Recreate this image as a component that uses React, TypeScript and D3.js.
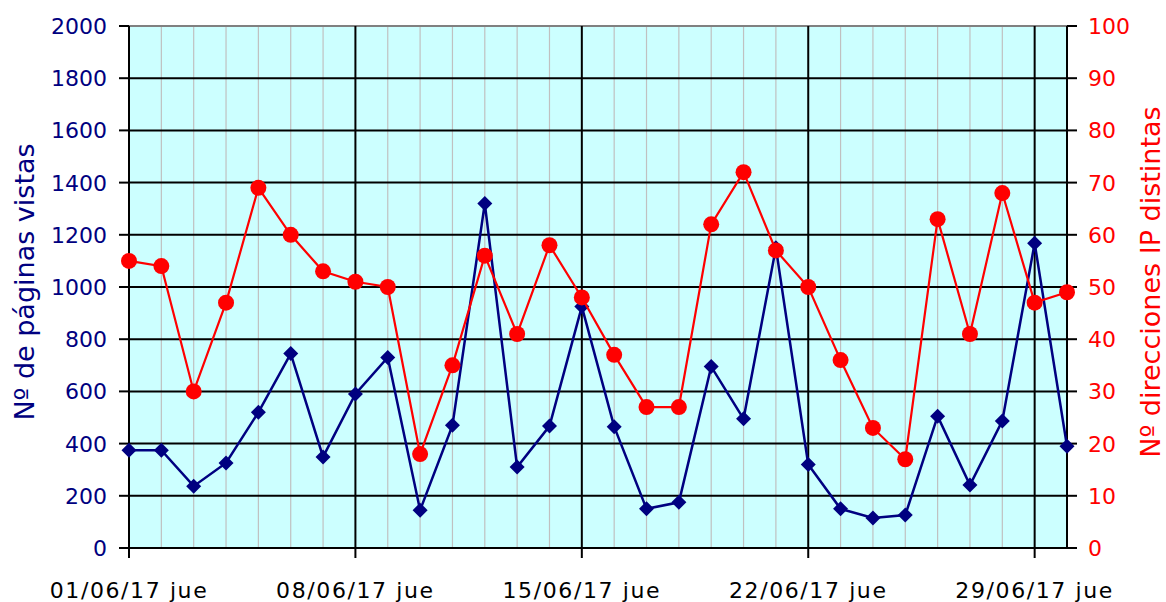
import React from "react";
import * as d3 from "d3";

const days: number[] = Array.from({ length: 30 }, (_, i) => i + 1);
const pageViews: number[] = [
  375, 375, 237, 326, 520, 745, 349, 590, 730, 145,
  470, 1320, 310, 467, 925, 465, 150, 175, 695, 495,
  1150, 320, 150, 115, 126, 505, 241, 487, 1168, 390,
];
const distinctIPs: number[] = [
  55, 54, 30, 47, 69, 60, 53, 51, 50, 18,
  35, 56, 41, 58, 48, 37, 27, 27, 62, 72,
  57, 50, 36, 23, 17, 63, 41, 68, 47, 49,
];
const leftTicks: number[] = [0, 200, 400, 600, 800, 1000, 1200, 1400, 1600, 1800, 2000];
const rightTicks: number[] = [0, 10, 20, 30, 40, 50, 60, 70, 80, 90, 100];
const majorDays: number[] = [1, 8, 15, 22, 29];
const majorLabels: string[] = ["01/06/17 jue", "08/06/17 jue", "15/06/17 jue", "22/06/17 jue", "29/06/17 jue"];
const leftTitle = "Nº de páginas vistas";
const rightTitle = "Nº direcciones IP distintas";

const W = 1166;
const H = 602;
const L = 129;
const R = 1067;
const T = 26;
const B = 548;
const FONT = "'DejaVu Sans', sans-serif";

export default function App() {
  const x = d3.scaleLinear().domain([1, 30]).range([L, R]);
  const yL = d3.scaleLinear().domain([0, 2000]).range([B, T]);
  const yR = d3.scaleLinear().domain([0, 100]).range([B, T]);

  const blueLine = d3
    .line<number>()
    .x((_, i) => x(days[i]))
    .y((v) => yL(v))(pageViews) as string;
  const redLine = d3
    .line<number>()
    .x((_, i) => x(days[i]))
    .y((v) => yR(v))(distinctIPs) as string;

  const midY = 282;

  return (
    <svg
      width={W}
      height={H}
      style={{ position: "absolute", left: 0, top: 0, background: "#fff" }}
    >
      <rect x={L} y={T} width={R - L} height={B - T} fill="#ccffff" />
      {/* minor vertical gridlines */}
      {days
        .filter((d) => !majorDays.includes(d) && d !== 30)
        .map((d) => (
          <line key={"mv" + d} x1={x(d)} x2={x(d)} y1={T} y2={B} stroke="#c0c0c0" strokeWidth={1.2} />
        ))}
      {/* horizontal gridlines */}
      {leftTicks.map((t) => (
        <line
          key={"h" + t}
          x1={L}
          x2={R}
          y1={yL(t)}
          y2={yL(t)}
          stroke={t === 2000 ? "#808080" : "#000"}
          strokeWidth={2}
        />
      ))}
      {/* major vertical gridlines */}
      {majorDays.map((d) => (
        <line key={"Mv" + d} x1={x(d)} x2={x(d)} y1={T} y2={B + 10} stroke="#000" strokeWidth={2} />
      ))}
      {/* axes */}
      <line x1={L} x2={L} y1={T} y2={B + 10} stroke="#000" strokeWidth={2} />
      <line x1={R} x2={R} y1={T} y2={B} stroke="#000" strokeWidth={2} />
      {leftTicks.map((t) => (
        <g key={"lt" + t}>
          <line x1={L - 10} x2={L} y1={yL(t)} y2={yL(t)} stroke="#000" strokeWidth={2} />
          <text
            x={107}
            y={yL(t)}
            dy="0.36em"
            textAnchor="end"
            fontFamily={FONT}
            fontSize={22}
            fill="#000080"
          >
            {t}
          </text>
        </g>
      ))}
      {rightTicks.map((t) => (
        <g key={"rt" + t}>
          <line x1={R} x2={R + 10} y1={yR(t)} y2={yR(t)} stroke="#000" strokeWidth={2} />
          <text
            x={1088}
            y={yR(t)}
            dy="0.36em"
            textAnchor="start"
            fontFamily={FONT}
            fontSize={22}
            fill="#ff0000"
          >
            {t}
          </text>
        </g>
      ))}
      {majorDays.map((d, i) => (
        <text
          key={"xl" + d}
          x={x(d)}
          y={598}
          textAnchor="middle"
          fontFamily={FONT}
          fontSize={22}
          letterSpacing={1.6}
          fill="#000"
        >
          {majorLabels[i]}
        </text>
      ))}
      <text
        transform={`translate(34,${midY}) rotate(-90)`}
        textAnchor="middle"
        fontFamily={FONT}
        fontSize={27}
        fill="#000080"
      >
        {leftTitle}
      </text>
      <text
        transform={`translate(1160,${midY}) rotate(-90)`}
        textAnchor="middle"
        fontFamily={FONT}
        fontSize={27}
        fill="#ff0000"
      >
        {rightTitle}
      </text>
      {/* series */}
      <path d={blueLine} fill="none" stroke="#000080" strokeWidth={2.5} />
      {pageViews.map((v, i) => {
        const cx = x(days[i]);
        const cy = yL(v);
        const s = 7.5;
        return (
          <path
            key={"b" + i}
            d={`M${cx},${cy - s}L${cx + s},${cy}L${cx},${cy + s}L${cx - s},${cy}Z`}
            fill="#000080"
          />
        );
      })}
      <path d={redLine} fill="none" stroke="#ff0000" strokeWidth={2.2} />
      {distinctIPs.map((v, i) => (
        <circle key={"r" + i} cx={x(days[i])} cy={yR(v)} r={8} fill="#ff0000" />
      ))}
    </svg>
  );
}
